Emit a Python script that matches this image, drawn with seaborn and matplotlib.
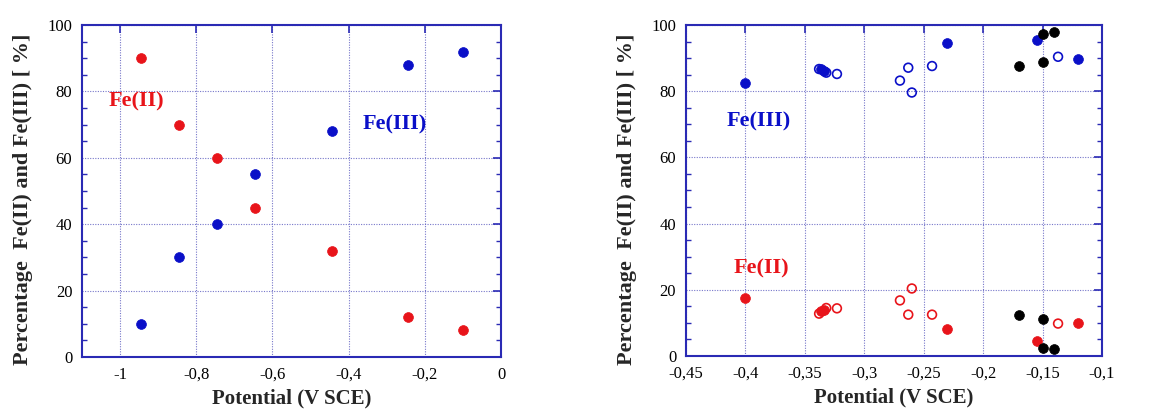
import matplotlib
matplotlib.use("Agg")
import matplotlib.pyplot as plt
import seaborn as sns
import pandas as pd
from matplotlib.ticker import MultipleLocator, FuncFormatter

# ---------------- data ----------------
# left panel
left_x = [-0.945, -0.845, -0.745, -0.645, -0.445, -0.245, -0.10]
left_fe2 = [90, 70, 60, 45, 32, 12, 8]
left_fe3 = [10, 30, 40, 55, 68, 88, 92]

# right panel
r_fe3_filled_x = [-0.400, -0.336, -0.334, -0.230, -0.155, -0.120]
r_fe3_filled_y = [82.4, 86.6, 86.0, 94.7, 95.5, 89.8]
r_fe2_filled_x = [-0.400, -0.336, -0.334, -0.230, -0.155, -0.120]
r_fe2_filled_y = [17.6, 13.6, 14.0, 8.1, 4.5, 10.1]

r_open_x = [-0.338, -0.332, -0.323, -0.270, -0.263, -0.260, -0.243, -0.137]
r_fe3_open_y = [86.7, 85.6, 85.2, 83.2, 87.1, 79.6, 87.6, 90.4]
r_fe2_open_y = [12.8, 14.5, 14.4, 16.8, 12.5, 20.4, 12.5, 9.8]

r_black_x = [-0.170, -0.150, -0.150, -0.140, -0.170, -0.150, -0.150, -0.140]
r_black_y = [87.5, 97.4, 88.8, 97.9, 12.5, 11.3, 2.5, 2.1]

xlabel = "Potential (V SCE)"
ylabel = "Percentage  Fe(II) and Fe(III) [ %]"

# ---------------- style ----------------
sns.set_theme(style="white")
plt.rcParams["font.family"] = ["Liberation Serif", "DejaVu Serif"]

BLUE = "#0a0fc8"
RED = "#e8141a"
SPINE = "#2a2ab4"
GRID = "#5f5fc0"

fig = plt.figure(figsize=(11.72, 4.11), dpi=100)
axL = fig.add_axes([0.0700, 0.1314, 0.3575, 0.8078])
axR = fig.add_axes([0.5853, 0.1338, 0.3550, 0.8054])


def fmt(v, pos):
    v = round(v, 6)
    s = f"{v:g}".replace(".", ",")
    if s == "-0":
        s = "0"
    return s


def style_axes(ax, xlim, xstep):
    ax.set_xlim(*xlim)
    ax.set_ylim(0, 100)
    ax.xaxis.set_major_locator(MultipleLocator(xstep))
    ax.yaxis.set_major_locator(MultipleLocator(20))
    ax.yaxis.set_minor_locator(MultipleLocator(5))
    ax.xaxis.set_major_formatter(FuncFormatter(fmt))
    ax.yaxis.set_major_formatter(FuncFormatter(fmt))
    ax.tick_params(axis="both", which="major", direction="in", length=6,
                   width=1.2, color=SPINE, top=True, right=True,
                   labelsize=12, labelcolor="black", pad=7)
    ax.tick_params(axis="y", which="minor", direction="in", length=3.5,
                   width=1.0, color=SPINE, left=True, right=True)
    ax.tick_params(axis="x", which="minor", bottom=False, top=False)
    for sp in ax.spines.values():
        sp.set_color(SPINE)
        sp.set_linewidth(1.5)
        sp.set_visible(True)
    ax.grid(True, which="major", linestyle=(0, (1, 1.3)), color=GRID,
            linewidth=0.8, alpha=0.85)
    ax.set_axisbelow(True)
    ax.set_xlabel(xlabel, fontsize=15, fontweight="bold", labelpad=4)
    ax.set_ylabel(ylabel, fontsize=16, fontweight="bold")
    ax.yaxis.set_label_coords(-0.117, 0.474)


# left panel
dfL2 = pd.DataFrame({"x": left_x, "y": left_fe2})
dfL3 = pd.DataFrame({"x": left_x, "y": left_fe3})
sns.scatterplot(data=dfL2, x="x", y="y", ax=axL, color=RED, s=50,
                edgecolor=RED, linewidth=0.5, zorder=3)
sns.scatterplot(data=dfL3, x="x", y="y", ax=axL, color=BLUE, s=50,
                edgecolor=BLUE, linewidth=0.5, zorder=3)
style_axes(axL, (-1.1, 0.0), 0.2)
axL.text(-1.03, 77, "Fe(II)", color=RED, fontsize=16, fontweight="bold",
         va="center", ha="left")
axL.text(-0.363, 70, "Fe(III)", color=BLUE, fontsize=16, fontweight="bold",
         va="center", ha="left")

# right panel
sns.scatterplot(x=r_open_x, y=r_fe3_open_y, ax=axR, s=40, marker="o",
                facecolor="none", edgecolor=BLUE, linewidth=1.2, zorder=3)
sns.scatterplot(x=r_open_x, y=r_fe2_open_y, ax=axR, s=40, marker="o",
                facecolor="none", edgecolor=RED, linewidth=1.2, zorder=3)
sns.scatterplot(x=r_fe3_filled_x, y=r_fe3_filled_y, ax=axR, s=50,
                color=BLUE, edgecolor=BLUE, linewidth=0.5, zorder=4)
sns.scatterplot(x=r_fe2_filled_x, y=r_fe2_filled_y, ax=axR, s=50,
                color=RED, edgecolor=RED, linewidth=0.5, zorder=4)
sns.scatterplot(x=r_black_x, y=r_black_y, ax=axR, s=50,
                color="black", edgecolor="black", linewidth=0.5, zorder=4)
style_axes(axR, (-0.45, -0.1), 0.05)
axR.yaxis.set_label_coords(-0.118, 0.474)
axR.text(-0.416, 71, "Fe(III)", color=BLUE, fontsize=16, fontweight="bold",
         va="center", ha="left")
axR.text(-0.410, 26.5, "Fe(II)", color=RED, fontsize=16, fontweight="bold",
         va="center", ha="left")

fig.savefig("out.png", dpi=100)
